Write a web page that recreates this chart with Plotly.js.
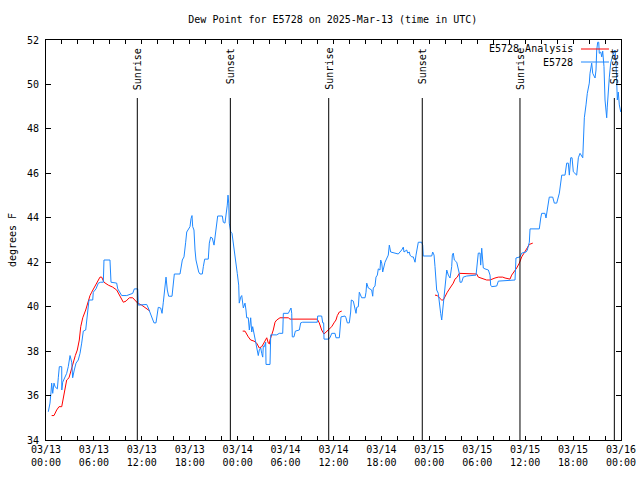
<!DOCTYPE html>
<html>
<head>
<meta charset="utf-8">
<script src="https://cdn.plot.ly/plotly-3.0.1.min.js"></script>
<style>html,body{margin:0;padding:0;background:#fff;}#chart{width:640px;height:480px;}</style>
</head>
<body>
<div id="chart"></div>
<script>
// Hours since 2025-03-13 00:00 UTC, and dew point (deg F)
const obsHours = [0.29,0.50,0.63,0.71,0.84,1.00,1.13,1.42,1.54,1.67,1.97,1.98,2.09,2.38,2.59,2.79,3.01,3.22,3.34,3.54,3.76,4.04,4.26,4.47,4.67,4.97,5.17,5.38,5.85,5.92,6.26,6.55,6.85,7.18,7.26,8.01,8.14,8.85,8.98,9.48,10.11,10.86,11.06,11.48,11.56,11.98,12.61,12.81,13.24,13.52,13.77,13.94,14.06,14.36,14.53,14.69,14.81,14.94,15.03,15.19,15.36,15.78,15.94,16.07,16.78,16.90,17.07,17.28,17.41,17.49,17.62,17.82,18.03,18.16,18.28,18.37,18.53,18.66,18.78,18.95,19.12,19.28,19.57,19.70,19.87,20.32,20.45,20.62,20.82,21.04,21.16,21.38,21.50,22.08,22.20,22.41,22.54,22.70,22.79,22.88,22.95,23.13,23.29,23.45,23.63,23.79,23.95,24.13,24.20,24.38,24.51,24.71,24.92,25.04,25.13,25.33,25.46,25.63,25.76,25.88,26.05,26.17,26.38,26.51,26.58,26.71,26.89,27.01,27.14,27.21,27.34,27.51,27.55,28.05,28.14,28.89,29.21,29.64,29.72,30.34,30.68,30.77,30.84,31.05,31.22,31.72,31.89,32.14,33.97,34.02,34.52,34.65,34.77,34.81,35.35,35.56,35.78,36.19,36.31,36.73,36.81,36.94,37.44,37.56,37.73,37.98,38.15,38.23,38.48,38.66,38.82,38.91,39.11,39.23,39.41,39.53,39.95,40.07,40.16,40.36,40.78,40.91,40.98,41.20,41.32,41.49,41.61,41.82,41.91,42.04,42.16,42.32,42.45,42.86,42.99,43.16,43.91,44.11,44.54,44.74,44.83,45.17,45.29,45.49,45.58,45.79,45.99,46.21,46.33,46.49,46.62,47.04,47.17,47.24,48.30,48.42,48.59,48.71,48.84,48.92,49.12,49.25,49.42,49.55,49.75,49.84,49.96,50.09,50.18,50.38,50.59,50.80,50.88,51.00,51.13,51.43,51.55,51.75,51.84,52.05,52.25,52.68,53.85,54.13,54.35,54.43,54.56,54.68,54.76,54.97,55.39,55.60,55.68,55.81,56.44,56.64,57.89,58.73,58.85,59.35,59.57,60.11,60.27,60.52,60.61,61.77,61.95,62.07,62.48,62.61,63.02,63.45,63.65,63.95,64.28,64.45,64.58,64.99,65.11,65.20,65.40,65.53,65.70,65.87,66.03,66.45,66.66,66.87,67.21,67.28,67.41,67.62,67.78,68.03,68.12,68.33,68.46,68.75,68.87,68.96,69.08,69.21,69.28,69.46,69.59,69.71,69.87,70.00,70.12,70.21,70.28,70.41,70.54,70.71,70.84,70.96,71.12,71.25,71.38,71.46,71.54,71.66,71.79,71.97];
const obsDewF = [35.27,35.66,36.16,36.56,36.10,36.56,36.40,36.30,36.80,37.30,37.30,36.25,36.60,36.80,37.00,37.30,37.80,37.50,36.80,37.15,37.46,37.60,37.90,38.36,38.90,38.95,39.50,40.30,40.30,40.65,40.80,41.06,41.10,41.10,42.10,42.10,41.10,41.06,40.80,40.50,40.50,40.60,40.80,40.80,40.07,40.07,40.10,39.94,39.50,39.27,39.27,39.70,39.97,39.94,39.70,40.20,40.60,41.10,41.33,40.75,40.47,40.47,41.20,41.47,41.47,41.74,42.10,42.24,42.55,42.90,43.36,43.50,43.60,43.96,44.10,43.60,43.45,42.55,42.10,41.83,41.56,41.47,41.47,41.80,42.14,42.14,42.86,43.13,43.09,42.77,43.13,43.54,44.08,44.08,43.80,43.76,44.08,44.57,45.02,44.66,43.76,43.36,43.30,42.90,42.46,42.10,41.50,40.97,40.16,40.43,40.50,39.94,40.16,39.85,39.50,39.50,38.95,39.50,38.86,39.10,38.80,38.60,38.27,38.05,37.80,38.05,38.14,37.90,37.73,38.23,38.20,38.40,37.40,37.40,38.73,38.73,38.80,38.80,39.70,39.70,39.94,39.70,38.64,38.64,38.90,38.95,39.27,39.30,39.30,39.58,39.58,39.27,39.27,38.54,38.54,38.60,38.80,38.80,38.60,38.60,39.04,39.54,39.58,39.50,39.27,39.27,39.76,40.30,40.25,39.94,39.70,39.97,40.00,40.65,40.50,40.40,40.40,40.65,41.06,40.84,40.75,40.47,40.84,40.93,41.33,41.42,41.70,41.65,42.10,41.96,41.56,41.87,42.00,42.32,42.77,42.46,42.41,42.37,42.55,42.68,42.46,42.55,42.41,42.46,42.32,42.24,42.24,42.00,42.32,42.68,42.90,42.90,42.77,42.28,42.28,42.46,42.32,41.80,41.29,40.75,40.60,40.07,39.70,39.40,40.16,40.43,40.90,41.10,41.65,41.42,41.29,41.80,42.32,42.41,42.10,42.00,41.80,41.50,41.10,41.10,41.33,41.38,41.42,42.41,42.41,41.87,42.63,42.10,41.74,41.70,41.65,41.42,40.97,40.90,40.93,41.15,41.20,41.20,42.19,42.24,42.41,42.46,42.55,42.90,43.50,43.50,43.99,44.20,44.20,43.99,44.93,44.93,44.66,44.66,45.11,45.70,45.92,45.92,46.24,46.46,46.46,45.92,46.70,46.70,46.07,45.92,46.70,46.90,46.70,47.28,48.50,49.08,49.60,50.06,50.50,50.96,50.50,50.29,50.65,51.55,51.90,51.90,51.40,51.46,51.24,51.50,50.80,49.30,48.50,48.50,48.98,49.75,50.33,50.96,51.24,51.30,51.46,51.55,50.96,49.44,49.30,49.66,49.08,48.76];

// Analysis: three separate runs (null separates them)
const anaHours = [0.71,1.00,1.34,1.63,1.97,2.17,2.38,2.59,2.88,3.13,3.42,3.67,3.92,4.17,4.35,4.60,4.97,5.22,5.51,5.72,6.14,6.42,6.76,6.97,7.26,7.80,8.35,8.85,9.27,9.68,10.02,10.43,10.86,11.14,11.48,11.98,12.40,12.81,13.02,
  null,
  24.63,24.92,25.33,25.63,26.05,26.38,26.71,27.01,27.21,27.42,27.64,27.84,27.96,28.05,28.26,28.46,28.68,28.89,29.30,30.34,30.55,33.97,34.22,34.52,34.81,35.15,35.47,35.78,36.06,36.31,36.48,36.73,37.03,
  null,
  48.71,49.00,49.25,49.55,49.75,49.96,50.25,50.59,50.80,51.00,51.21,51.50,51.75,52.05,52.68,53.93,54.13,54.43,54.76,55.18,55.60,55.81,56.22,56.64,57.19,57.48,57.89,58.10,58.31,58.60,58.94,59.27,59.57,59.86,60.19,60.52,60.95];
const anaDewF = [35.10,35.10,35.35,35.50,35.50,35.90,36.40,36.70,36.80,37.15,37.46,37.80,38.05,38.50,39.10,39.50,39.85,40.20,40.50,40.65,40.90,41.10,41.33,41.33,41.10,40.97,40.88,40.75,40.50,40.20,40.25,40.40,40.40,40.30,40.16,40.07,39.97,39.85,39.80,
  null,
  38.90,38.90,38.64,38.50,38.45,38.36,38.14,38.20,38.32,38.45,38.60,38.36,38.32,38.50,38.73,38.95,39.30,39.40,39.50,39.50,39.44,39.44,39.27,38.95,38.77,38.90,39.00,39.10,39.27,39.40,39.60,39.76,39.80,
  null,
  40.52,40.50,40.40,40.30,40.30,40.48,40.65,40.84,40.93,41.06,41.24,41.33,41.50,41.50,41.47,41.47,41.33,41.29,41.24,41.20,41.20,41.24,41.29,41.33,41.33,41.29,41.24,41.24,41.42,41.56,41.74,41.96,42.24,42.41,42.60,42.80,42.86];

const sunLabels = ["Sunrise","Sunset","Sunrise","Sunset","Sunrise","Sunset"];
const sunTimes = ["2025-03-13 11:26","2025-03-13 23:05","2025-03-14 11:24","2025-03-14 23:07","2025-03-15 11:21","2025-03-15 23:10"];

const seriesNames = ["E5728 Analysis", "E5728"];

const BASE = Date.UTC(2025, 2, 13);
function toStamp(h) {
  if (h === null) return null;
  return new Date(BASE + h * 3600000).toISOString().slice(0, 19).replace('T', ' ');
}

const FONT = "DejaVu Sans Mono, Liberation Mono, monospace";
const BLUE = "#1e88ff";
const RED = "#ff0000";
const COLORS = [RED, BLUE];

const traces = [
  {
    x: anaHours.map(toStamp), y: anaDewF, name: seriesNames[0],
    type: "scatter", mode: "lines", connectgaps: false,
    line: {color: RED, width: 1}
  },
  {
    x: obsHours.map(toStamp), y: obsDewF, name: seriesNames[1],
    type: "scatter", mode: "lines",
    line: {color: BLUE, width: 1}
  }
];

const shapes = sunTimes.map(t => ({
  type: "line", xref: "x", yref: "paper", x0: t, x1: t, y0: 0, y1: 0.855,
  line: {color: "black", width: 1}
}));
const annotations = sunTimes.map((t, i) => ({
  xref: "x", yref: "paper", x: t, y: 0.985, xanchor: "center", yanchor: "top",
  text: sunLabels[i], textangle: -90, showarrow: false,
  font: {family: FONT, size: 10, color: "black"}
}));

// gnuplot-style key: right-justified text followed by the line sample
const keyRowY = [0.9775, 0.945];
seriesNames.forEach((nm, i) => {
  annotations.push({
    xref: "paper", yref: "paper", x: 0.9195, y: keyRowY[i],
    xanchor: "right", yanchor: "middle", text: nm, showarrow: false,
    font: {family: FONT, size: 10, color: "black"}
  });
  shapes.push({
    type: "line", xref: "paper", yref: "paper",
    x0: 0.9304, x1: 0.9791, y0: keyRowY[i], y1: keyRowY[i],
    line: {color: COLORS[i], width: 1}
  });
});

const layout = {
  width: 640, height: 480,
  margin: {l: 46, r: 19, t: 40, b: 40},
  paper_bgcolor: "white", plot_bgcolor: "white",
  font: {family: FONT, size: 10, color: "black"},
  title: {text: "Dew Point for E5728 on 2025-Mar-13 (time in UTC)",
          font: {family: FONT, size: 10, color: "black"},
          x: 0.52, xanchor: "center", y: 0.96, yanchor: "middle", yref: "container"},
  showlegend: false,
  xaxis: {
    type: "date",
    range: ["2025-03-13 00:00", "2025-03-16 00:00"],
    tick0: "2025-03-13 00:00", dtick: 21600000,
    tickformat: "%m/%d<br>%H:%M",
    ticks: "inside", ticklen: 4, tickcolor: "black", tickwidth: 1,
    minor: {dtick: 7200000, ticks: "inside", ticklen: 4, tickcolor: "black", tickwidth: 1},
    showline: true, linecolor: "black", linewidth: 1, mirror: "ticks",
    showgrid: false, zeroline: false,
    tickfont: {family: FONT, size: 10, color: "black"},
    automargin: false
  },
  yaxis: {
    range: [34, 52], dtick: 2, tick0: 34,
    ticks: "inside", ticklen: 5, tickcolor: "black", tickwidth: 1,
    showline: true, linecolor: "black", linewidth: 1, mirror: "ticks",
    showgrid: false, zeroline: false,
    tickfont: {family: FONT, size: 10, color: "black"},
    ticklabelstandoff: 4,
    title: {text: "degrees F", font: {family: FONT, size: 10, color: "black"}, standoff: 8},
    automargin: false
  },
  shapes: shapes,
  annotations: annotations
};

Plotly.newPlot("chart", traces, layout, {staticPlot: true, displayModeBar: false});
</script>
</body>
</html>
